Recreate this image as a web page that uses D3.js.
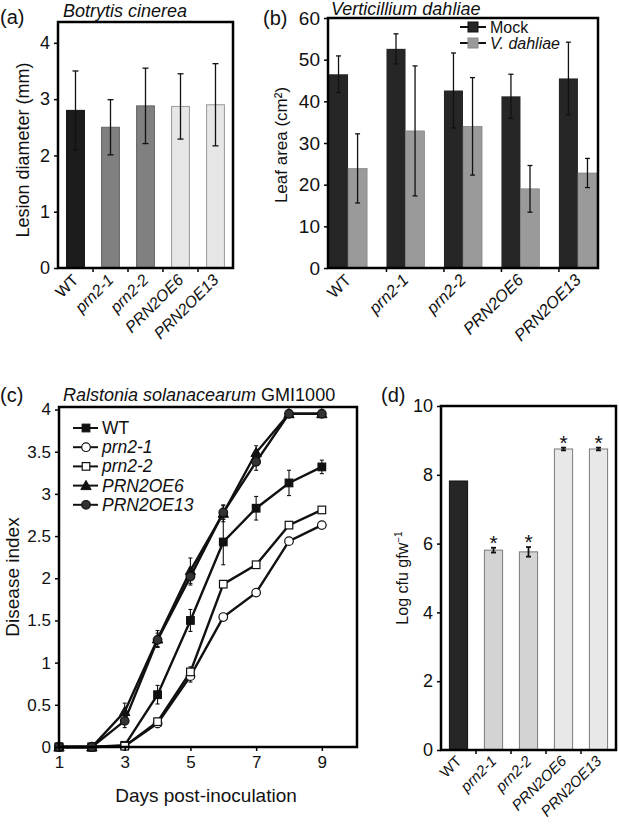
<!DOCTYPE html>
<html><head><meta charset="utf-8">
<script src="https://cdn.jsdelivr.net/npm/d3@7"></script>
<style>
body{margin:0;background:#fff;}
svg{font-family:"Liberation Sans",Arial,sans-serif;}
</style></head>
<body><svg id="c" width="619" height="828"></svg>
<script>
// ---------- DATA ----------
const genotypes = ["WT","prn2-1","prn2-2","PRN2OE6","PRN2OE13"];
const italicCat = [false,true,true,true,true];

// (a) Botrytis cinerea lesion diameter
const lesionMean = [2.80,2.50,2.88,2.87,2.90];
const lesionErr  = [0.70,0.49,0.67,0.58,0.73];
const aTicks = [0,1,2,3,4];

// (b) Verticillium dahliae leaf area
const leafMock    = [46.5,52.6,42.6,41.2,45.5];
const leafMockErr = [4.4,3.6,9.0,5.3,8.7];
const leafVd      = [23.9,32.9,34.0,19.0,22.8];
const leafVdErr   = [8.3,15.6,11.7,5.6,3.5];
const bTicks = [0,10,20,30,40,50,60];

// (c) Ralstonia solanacearum disease index
const days = [1,2,3,4,5,6,7,8,9];
const diWT     = [0,0,0.02,0.62,1.50,2.43,2.83,3.13,3.32];
const diWTErr  = [0,0,0.02,0.11,0.13,0.27,0.14,0.15,0.08];
const diP21    = [0,0,0.01,0.28,0.84,1.54,1.83,2.44,2.63];
const diP21Err = [0,0,0.01,0.05,0.07,0.02,0.03,0.03,0.03];
const diP22    = [0,0,0.01,0.30,0.89,1.93,2.16,2.63,2.81];
const diP22Err = [0,0,0.01,0.04,0.06,0.02,0.02,0.03,0.03];
const diOE6    = [0,0,0.42,1.28,2.09,2.77,3.49,3.95,3.95];
const diOE6Err = [0,0,0.10,0.10,0.15,0.10,0.08,0.02,0.02];
const diOE13   = [0,0,0.31,1.27,2.02,2.78,3.38,3.95,3.95];
const diOE13Err= [0,0,0.08,0.08,0.10,0.08,0.10,0.02,0.02];
const cXTicks = [1,3,5,7,9];
const cYTicks = [0,0.5,1,1.5,2,2.5,3,3.5,4];
const cYTickLabels = ["0","0.5","1","1.5","2","2.5","3","3.5","4"];

// (d) Log cfu
const cfuMean = [7.82,5.81,5.76,8.75,8.75];
const cfuErr  = [0.02,0.07,0.14,0.04,0.04];
const cfuSig  = [false,true,true,true,true];
const dTicks = [0,2,4,6,8,10];

// ---------- DRAWING ----------
const svg = d3.select("#c");

function text(g,x,y,str,opts={}){
  const t=g.append("text").attr("x",x).attr("y",y).text(str)
    .attr("font-size",opts.size||15).attr("fill","#111");
  if(opts.italic) t.attr("font-style","italic");
  if(opts.anchor) t.attr("text-anchor",opts.anchor);
  if(opts.rotate!==undefined) t.attr("transform",`rotate(${opts.rotate},${x},${y})`);
  return t;
}

function frame(x0,x1,y0,y1){
  svg.append("rect").attr("x",x0).attr("y",y1).attr("width",x1-x0).attr("height",y0-y1)
    .attr("fill","none").attr("stroke","#000").attr("stroke-width",2.5);
}

function yAxis(y,x0,ticks,labels,size,tickLen){
  const ax=d3.axisLeft(y).tickValues(ticks).tickSize(tickLen||4).tickSizeOuter(0).tickPadding(4)
    .tickFormat((d,i)=>labels?labels[i]:d);
  const g=svg.append("g").attr("transform",`translate(${x0},0)`).call(ax);
  g.select(".domain").remove();
  g.selectAll("text").attr("font-size",size).attr("fill","#111").attr("font-family","Liberation Sans, Arial, sans-serif");
  g.selectAll("line").attr("stroke","#000").attr("stroke-width",1.5);
  return g;
}

function catLabels(xc,yBase,size){
  genotypes.forEach((c,i)=>{
    const x=xc(i)+4, yy=yBase;
    text(svg,x,yy,c,{size:size,italic:italicCat[i],anchor:"end",rotate:-45});
  });
}

function errBar(x,yTop,yBot,cap,sw){
  const g=svg.append("g").attr("stroke","#111").attr("stroke-width",sw||1.3);
  g.append("line").attr("x1",x).attr("x2",x).attr("y1",yTop).attr("y2",yBot);
  g.append("line").attr("x1",x-cap).attr("x2",x+cap).attr("y1",yTop).attr("y2",yTop);
  g.append("line").attr("x1",x-cap).attr("x2",x+cap).attr("y1",yBot).attr("y2",yBot);
}

// ===== Panel (a) =====
(function(){
  const L=58,R=233,T=22,B=268;
  const x=d3.scaleBand().domain(genotypes).range([L,R]).paddingInner(0.49).paddingOuter(0.245);
  const y=d3.scaleLinear().domain([0,4.37]).range([B,T]);
  const fills=["#1c1c1c","#808080","#808080","#e6e6e6","#e6e6e6"];
  const strokes=["#111","#666","#666","#999","#999"];
  genotypes.forEach((g,i)=>{
    svg.append("rect").attr("x",x(g)).attr("y",y(lesionMean[i])).attr("width",x.bandwidth())
      .attr("height",y(0)-y(lesionMean[i])).attr("fill",fills[i]).attr("stroke",strokes[i]).attr("stroke-width",1);
    errBar(x(g)+x.bandwidth()/2,y(lesionMean[i]+lesionErr[i]),y(lesionMean[i]-lesionErr[i]),3,1.3);
  });
  genotypes.forEach((g,i)=>{ if(i>0){const bx=x(g)-x.step()*x.paddingInner()/2;
    svg.append("line").attr("x1",bx).attr("x2",bx).attr("y1",B).attr("y2",B+4).attr("stroke","#000").attr("stroke-width",1.5);}});
  frame(L,R,B,T);
  yAxis(y,L,aTicks,null,18,4);
  catLabels(i=>x(genotypes[i])+x.bandwidth()/2,B+13,16);
  text(svg,29,150,"Lesion diameter (mm)",{size:18,anchor:"middle",rotate:-90});
  text(svg,0,24,"(a)",{size:20});
  text(svg,63,17,"Botrytis cinerea",{size:18,italic:true});
})();

// ===== Panel (b) =====
(function(){
  const L=328,R=598,T=18,B=268;
  const x=d3.scaleBand().domain(genotypes).range([L+1,R-1]).paddingInner(0.337).paddingOuter(0);
  const y=d3.scaleLinear().domain([0,60]).range([B,T]);
  const bw=x.bandwidth()/2;
  genotypes.forEach((g,i)=>{
    const x0=x(g);
    svg.append("rect").attr("x",x0).attr("y",y(leafMock[i])).attr("width",bw).attr("height",y(0)-y(leafMock[i]))
      .attr("fill","#262626");
    svg.append("rect").attr("x",x0+bw).attr("y",y(leafVd[i])).attr("width",bw).attr("height",y(0)-y(leafVd[i]))
      .attr("fill","#9a9a9a").attr("stroke","#777").attr("stroke-width",0.6);
    errBar(x0+bw/2,y(leafMock[i]+leafMockErr[i]),y(leafMock[i]-leafMockErr[i]),2.5,1.3);
    errBar(x0+bw*1.5,y(leafVd[i]+leafVdErr[i]),y(leafVd[i]-leafVdErr[i]),2.5,1.3);
    if(i>0) svg.append("line").attr("x1",x0).attr("x2",x0).attr("y1",B).attr("y2",B+4).attr("stroke","#000").attr("stroke-width",1.5);
  });
  frame(L,R,B,T);
  yAxis(y,L,bTicks,null,19,4);
  catLabels(i=>x(genotypes[i])+x.bandwidth()/2,B+13,16.5);
  text(svg,287,145,"Leaf area (cm²)",{size:17,anchor:"middle",rotate:-90});
  text(svg,263,25,"(b)",{size:20});
  text(svg,331,15,"Verticillium dahliae",{size:18,italic:true});
  const legItems=[["Mock","#262626",false,27],["V. dahliae","#9a9a9a",true,43]];
  legItems.forEach(([lab,col,it,yy])=>{
    svg.append("line").attr("x1",460).attr("x2",486).attr("y1",yy).attr("y2",yy).attr("stroke","#111").attr("stroke-width",2);
    svg.append("rect").attr("x",468).attr("y",yy-5).attr("width",10).attr("height",10).attr("fill",col).attr("stroke",col==="#262626"?"#111":"#888");
    text(svg,490,yy+5.5,lab,{size:16,italic:it});
  });
})();

// ===== Panel (c) =====
(function(){
  const L=59,R=357,T=407,B=747;
  const x=d3.scaleLinear().domain([1,10.07]).range([L,R]);
  const y=d3.scaleLinear().domain([0,4.03]).range([B,T]);
  const series=[
    {name:"WT",v:diWT,e:diWTErr,shape:"square",fill:"#111",it:false},
    {name:"prn2-1",v:diP21,e:diP21Err,shape:"circle",fill:"#fff",it:true},
    {name:"prn2-2",v:diP22,e:diP22Err,shape:"square",fill:"#fff",it:true},
    {name:"PRN2OE6",v:diOE6,e:diOE6Err,shape:"triangle",fill:"#111",it:true},
    {name:"PRN2OE13",v:diOE13,e:diOE13Err,shape:"circle",fill:"#333",it:true}
  ];
  const line=d3.line().x((d,i)=>x(days[i])).y(d=>y(d));
  function marker(g,shape,fill,cx,cy){
    if(shape==="square") g.append("rect").attr("x",cx-3.8).attr("y",cy-3.8).attr("width",7.6).attr("height",7.6).attr("fill",fill).attr("stroke","#111").attr("stroke-width",1.2);
    else if(shape==="circle") g.append("circle").attr("cx",cx).attr("cy",cy).attr("r",4.3).attr("fill",fill).attr("stroke","#111").attr("stroke-width",1.2);
    else g.append("path").attr("d",`M${cx},${cy-5.2}L${cx+5.2},${cy+4}L${cx-5.2},${cy+4}Z`).attr("fill",fill).attr("stroke","#111").attr("stroke-width",1);
  }
  series.forEach(s=>{
    s.v.forEach((v,i)=>{ if(s.e[i]>0.03) errBar(x(days[i]),y(v+s.e[i]),y(v-s.e[i]),2,1.1); });
  });
  series.forEach(s=>{
    svg.append("path").datum(s.v).attr("d",line).attr("fill","none").attr("stroke","#111").attr("stroke-width",2.4);
  });
  series.forEach(s=>{
    const g=svg.append("g");
    s.v.forEach((v,i)=>marker(g,s.shape,s.fill,x(days[i]),y(v)));
  });
  frame(L,R,B,T);
  yAxis(y,L,cYTicks,cYTickLabels,17,4);
  const ax=d3.axisBottom(x).tickValues(cXTicks).tickSize(4).tickSizeOuter(0).tickPadding(5);
  const g=svg.append("g").attr("transform",`translate(0,${B})`).call(ax);
  g.select(".domain").remove();
  g.selectAll("text").attr("font-size",17).attr("fill","#111").attr("font-family","Liberation Sans, Arial, sans-serif");
  g.selectAll("line").attr("stroke","#000").attr("stroke-width",1.5);
  text(svg,206,802,"Days post-inoculation",{size:19,anchor:"middle"});
  text(svg,19,577,"Disease index",{size:19,anchor:"middle",rotate:-90});
  text(svg,0,402,"(c)",{size:20});
  const tt=text(svg,63,401,"Ralstonia solanacearum",{size:18,italic:true});
  tt.append("tspan").attr("font-style","normal").text(" GMI1000");
  series.forEach((s,k)=>{
    const yy=428+k*19.2;
    svg.append("line").attr("x1",73).attr("x2",98).attr("y1",yy).attr("y2",yy).attr("stroke","#111").attr("stroke-width",2);
    marker(svg.append("g"),s.shape,s.fill,86,yy);
    text(svg,102,yy+6,s.name,{size:17.5,italic:s.it});
  });
})();

// ===== Panel (d) =====
(function(){
  const L=441,R=616,T=406,B=750;
  const x=d3.scaleBand().domain(genotypes).range([L,R]).paddingInner(0.48).paddingOuter(0.24);
  const y=d3.scaleLinear().domain([0,10]).range([B,T]);
  const fills=["#262626","#d3d3d3","#d3d3d3","#e8e8e8","#e8e8e8"];
  genotypes.forEach((g,i)=>{
    svg.append("rect").attr("x",x(g)).attr("y",y(cfuMean[i])).attr("width",x.bandwidth())
      .attr("height",y(0)-y(cfuMean[i])).attr("fill",fills[i]).attr("stroke",i===0?"#111":"#7a7a7a").attr("stroke-width",1);
    const cx=x(g)+x.bandwidth()/2;
    if(cfuErr[i]>0.03) errBar(cx,y(cfuMean[i]+cfuErr[i]),y(cfuMean[i]-cfuErr[i]),2.5,1.8);
    if(cfuSig[i]) text(svg,cx,y(cfuMean[i]+cfuErr[i])+2,"*",{size:21,anchor:"middle"});
  });
  genotypes.forEach((g,i)=>{ if(i>0){const bx=x(g)-x.step()*x.paddingInner()/2;
    svg.append("line").attr("x1",bx).attr("x2",bx).attr("y1",B).attr("y2",B+4).attr("stroke","#000").attr("stroke-width",1.5);}});
  frame(L,R,B,T);
  yAxis(y,L,dTicks,null,18,4);
  catLabels(i=>x(genotypes[i])+x.bandwidth()/2,B+12,15);
  const lt=text(svg,408,578,"Log cfu gfw",{size:16,anchor:"middle",rotate:-90});
  lt.append("tspan").attr("font-size",10).attr("dy",-6).text("−1");
  text(svg,381,402,"(d)",{size:20});
})();
</script></body></html>
